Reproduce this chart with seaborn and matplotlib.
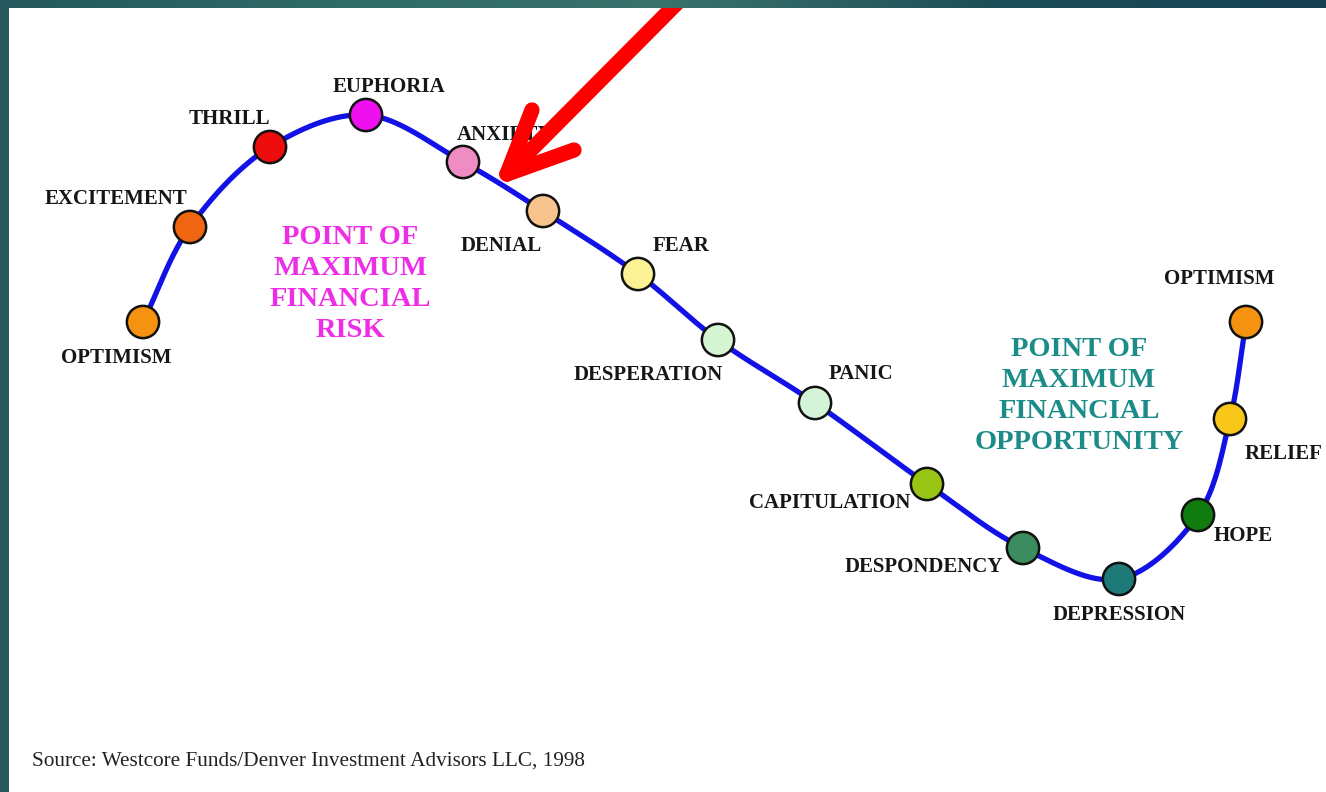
import numpy as np
import pandas as pd
import matplotlib
matplotlib.use("Agg")
import matplotlib.pyplot as plt
from matplotlib.colors import LinearSegmentedColormap
from matplotlib.patches import Rectangle
import seaborn as sns

# ---- data: stages of the market cycle (position in chart units, y downward) ----
stages = ["OPTIMISM", "EXCITEMENT", "THRILL", "EUPHORIA", "ANXIETY", "DENIAL",
          "FEAR", "DESPERATION", "PANIC", "CAPITULATION", "DESPONDENCY",
          "DEPRESSION", "HOPE", "RELIEF", "OPTIMISM "]
stage_x = [143, 190, 270, 366, 463, 543, 638, 718, 815, 927, 1023, 1119, 1198, 1230, 1246]
stage_y = [322, 227, 147, 115, 162, 211, 274, 340, 403, 484, 548, 579, 515, 419, 322]
stage_colors = ["#f5920f", "#f0650f", "#ee0c0c", "#ee10ee", "#f08cc4", "#f8c48e",
                "#fbf294", "#d6f5d2", "#d4f4d8", "#98c514", "#3b8c5e",
                "#1d7a78", "#107c10", "#f7c618", "#f5920f"]
# label anchor positions (center of text)
label_x = [116, 116, 229, 389, 505, 501, 681, 648, 861, 830, 924, 1119, 1243, 1284, 1219]
label_y = [358, 199, 119, 87, 135, 246, 246, 375, 374, 503, 567, 615, 536, 454, 279]

source_text = "Source: Westcore Funds/Denver Investment Advisors LLC, 1998"
risk_text = "POINT OF\nMAXIMUM\nFINANCIAL\nRISK"
opp_text = "POINT OF\nMAXIMUM\nFINANCIAL\nOPPORTUNITY"

W, H = 1326, 792

# ---- smooth curve through the stage points (centripetal Catmull-Rom) ----
def catmull_rom(xs, ys, n=40, alpha=0.5):
    P = np.column_stack([xs, ys]).astype(float)
    P = np.vstack([2 * P[0] - P[1], P, 2 * P[-1] - P[-2]])
    out = []
    for i in range(1, len(P) - 2):
        p0, p1, p2, p3 = P[i - 1], P[i], P[i + 1], P[i + 2]
        t0 = 0.0
        t1 = t0 + np.linalg.norm(p1 - p0) ** alpha
        t2 = t1 + np.linalg.norm(p2 - p1) ** alpha
        t3 = t2 + np.linalg.norm(p3 - p2) ** alpha
        t = np.linspace(t1, t2, n)[:, None]
        A1 = (t1 - t) / (t1 - t0) * p0 + (t - t0) / (t1 - t0) * p1
        A2 = (t2 - t) / (t2 - t1) * p1 + (t - t1) / (t2 - t1) * p2
        A3 = (t3 - t) / (t3 - t2) * p2 + (t - t2) / (t3 - t2) * p3
        B1 = (t2 - t) / (t2 - t0) * A1 + (t - t0) / (t2 - t0) * A2
        B2 = (t3 - t) / (t3 - t1) * A2 + (t - t1) / (t3 - t1) * A3
        C = (t2 - t) / (t2 - t1) * B1 + (t - t1) / (t2 - t1) * B2
        out.append(C if i == len(P) - 3 else C[:-1])
    return np.vstack(out)

curve = catmull_rom(stage_x, stage_y)
curve_df = pd.DataFrame({"x": curve[:, 0], "y": curve[:, 1]})
pts_df = pd.DataFrame({"x": stage_x, "y": stage_y, "stage": stages})

# ---- figure ----
sns.set_theme(style="white")
plt.rcParams["font.family"] = ["Liberation Serif", "DejaVu Serif"]

fig = plt.figure(figsize=(W / 100, H / 100), dpi=100)

# background frame (teal gradient)
bg = fig.add_axes([0, 0, 1, 1])
grad = np.linspace(0, 1, 256)
cmap = LinearSegmentedColormap.from_list("frame", ["#24585c", "#2f6a66", "#3a726c", "#1e4f58", "#163f52"])
bg.imshow(grad[None, :], aspect="auto", cmap=cmap, extent=[0, 1, 0, 1])
bg.set_axis_off()

ax = fig.add_axes([9 / W, 0, 1 - 9 / W, 1 - 8 / H])
ax.set_xlim(9, W)
ax.set_ylim(H, 8)
ax.add_patch(Rectangle((0, 0), 1, 1, transform=ax.transAxes, facecolor="white",
                       edgecolor="none", zorder=0))

sns.lineplot(data=curve_df, x="x", y="y", sort=False, estimator=None, ax=ax,
             color="#1212e6", lw=3.8, zorder=2)
sns.scatterplot(data=pts_df, x="x", y="y", hue="stage", palette=stage_colors,
                s=540, edgecolor="#111111", linewidth=1.8, legend=False, ax=ax, zorder=3)

for name, lx, ly in zip(stages, label_x, label_y):
    ax.text(lx, ly, name.strip(), ha="center", va="center", fontsize=15,
            fontweight="bold", color="#161616", zorder=4)

ax.text(350, 284, risk_text, ha="center", va="center", fontsize=20.5, fontweight="bold",
        color="#ee2ee6", linespacing=1.32, zorder=4)
ax.text(1079, 396, opp_text, ha="center", va="center", fontsize=20.5, fontweight="bold",
        color="#1b8c88", linespacing=1.32, zorder=4)

ax.text(32, 761, source_text, ha="left", va="center", fontsize=15.3, color="#222222")

# red arrow annotation
arrow_tip = (507, 174)
arrow_tail = (700, -20)
arm1_end = (532, 110)
arm2_end = (574, 150)
for end in (arrow_tail, arm1_end, arm2_end):
    ax.plot([arrow_tip[0], end[0]], [arrow_tip[1], end[1]], color="#ff0000", lw=11,
            solid_capstyle="round", zorder=6)

for s in ax.spines.values():
    s.set_visible(False)
ax.set_xticks([])
ax.set_yticks([])
ax.set_xlabel("")
ax.set_ylabel("")
fig.savefig("out.png", dpi=100)
